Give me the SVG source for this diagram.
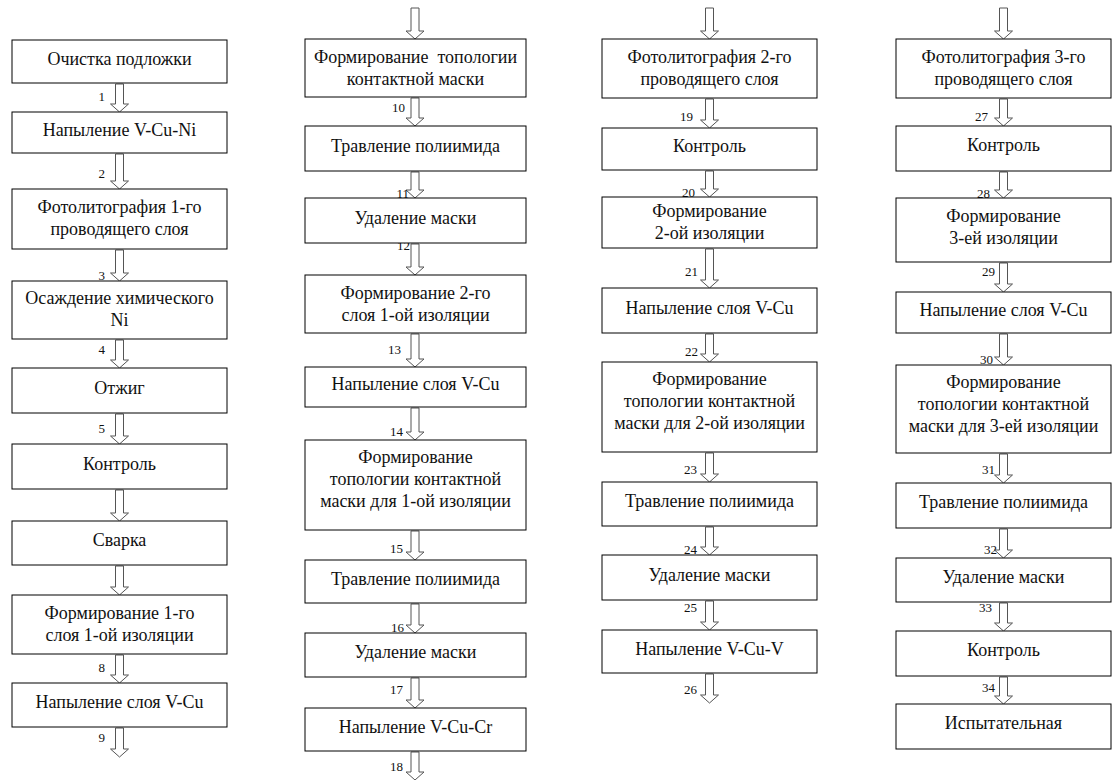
<svg xmlns="http://www.w3.org/2000/svg" width="1112" height="780" viewBox="0 0 1112 780">
<style>
.b rect{fill:#fff;stroke:#000;stroke-width:1}
.b text{font-family:"Liberation Serif","Times New Roman",serif;font-size:18px;fill:#111;text-anchor:middle}
.a polygon{fill:#fff;stroke:#555;stroke-width:1}
.l{font-family:"Liberation Serif","Times New Roman",serif;font-size:13px;fill:#111;text-anchor:end}
</style>
<rect width="1112" height="780" fill="#fff"/>
<g id="connectors" class="a">
<polygon points="115.5,84 123.5,84 123.5,104 128.5,104 119.5,112 110.5,104 115.5,104"/>
<polygon points="115.5,154 123.5,154 123.5,181 128.5,181 119.5,189 110.5,181 115.5,181"/>
<polygon points="115.5,250 123.5,250 123.5,273 128.5,273 119.5,281 110.5,273 115.5,273"/>
<polygon points="115.5,340 123.5,340 123.5,360 128.5,360 119.5,368 110.5,360 115.5,360"/>
<polygon points="115.5,414 123.5,414 123.5,436 128.5,436 119.5,444 110.5,436 115.5,436"/>
<polygon points="115.5,490 123.5,490 123.5,513 128.5,513 119.5,521 110.5,513 115.5,513"/>
<polygon points="115.5,566 123.5,566 123.5,587 128.5,587 119.5,595 110.5,587 115.5,587"/>
<polygon points="115.5,655 123.5,655 123.5,675 128.5,675 119.5,683 110.5,675 115.5,675"/>
<polygon points="115.5,728 123.5,728 123.5,749 128.5,749 119.5,757 110.5,749 115.5,749"/>
<polygon points="411,8 419,8 419,31 424,31 415,39 406,31 411,31"/>
<polygon points="411,98 419,98 419,118 424,118 415,126 406,118 411,118"/>
<polygon points="411,172 419,172 419,190 424,190 415,198 406,190 411,190"/>
<polygon points="411,244 419,244 419,267 424,267 415,275 406,267 411,267"/>
<polygon points="411,334 419,334 419,359 424,359 415,367 406,359 411,359"/>
<polygon points="411,408 419,408 419,432 424,432 415,440 406,432 411,432"/>
<polygon points="411,531 419,531 419,552 424,552 415,560 406,552 411,552"/>
<polygon points="411,604 419,604 419,625 424,625 415,633 406,625 411,625"/>
<polygon points="411,678 419,678 419,700 424,700 415,708 406,700 411,700"/>
<polygon points="411,752 419,752 419,772 424,772 415,780 406,772 411,772"/>
<polygon points="705.5,8 713.5,8 713.5,31 718.5,31 709.5,39 700.5,31 705.5,31"/>
<polygon points="705.5,99 713.5,99 713.5,120 718.5,120 709.5,128 700.5,120 705.5,120"/>
<polygon points="705.5,171 713.5,171 713.5,189 718.5,189 709.5,197 700.5,189 705.5,189"/>
<polygon points="705.5,249 713.5,249 713.5,280 718.5,280 709.5,288 700.5,280 705.5,280"/>
<polygon points="705.5,334 713.5,334 713.5,354 718.5,354 709.5,362 700.5,354 705.5,354"/>
<polygon points="705.5,453 713.5,453 713.5,474 718.5,474 709.5,482 700.5,474 705.5,474"/>
<polygon points="705.5,527 713.5,527 713.5,547 718.5,547 709.5,555 700.5,547 705.5,547"/>
<polygon points="705.5,601 713.5,601 713.5,622 718.5,622 709.5,630 700.5,622 705.5,622"/>
<polygon points="705.5,674 713.5,674 713.5,695 718.5,695 709.5,703 700.5,695 705.5,695"/>
<polygon points="999.5,8 1007.5,8 1007.5,31 1012.5,31 1003.5,39 994.5,31 999.5,31"/>
<polygon points="999.5,99 1007.5,99 1007.5,118 1012.5,118 1003.5,126 994.5,118 999.5,118"/>
<polygon points="999.5,172 1007.5,172 1007.5,190 1012.5,190 1003.5,198 994.5,190 999.5,190"/>
<polygon points="999.5,263 1007.5,263 1007.5,284 1012.5,284 1003.5,292 994.5,284 999.5,284"/>
<polygon points="999.5,334 1007.5,334 1007.5,357 1012.5,357 1003.5,365 994.5,357 999.5,357"/>
<polygon points="999.5,454 1007.5,454 1007.5,475 1012.5,475 1003.5,483 994.5,475 999.5,475"/>
<polygon points="999.5,529 1007.5,529 1007.5,550 1012.5,550 1003.5,558 994.5,550 999.5,550"/>
<polygon points="999.5,603 1007.5,603 1007.5,623 1012.5,623 1003.5,631 994.5,623 999.5,623"/>
<polygon points="999.5,677 1007.5,677 1007.5,696 1012.5,696 1003.5,704 994.5,696 999.5,696"/>
</g>
<g id="labels">
<text class="l" x="105" y="101">1</text>
<text class="l" x="105" y="178">2</text>
<text class="l" x="105" y="280">3</text>
<text class="l" x="105" y="354">4</text>
<text class="l" x="105" y="433">5</text>
<text class="l" x="105" y="672">8</text>
<text class="l" x="105" y="742">9</text>
<text class="l" x="405" y="112">10</text>
<text class="l" x="409" y="198">11</text>
<text class="l" x="410" y="250">12</text>
<text class="l" x="401" y="354">13</text>
<text class="l" x="403" y="436">14</text>
<text class="l" x="403" y="553">15</text>
<text class="l" x="404" y="632">16</text>
<text class="l" x="403" y="694">17</text>
<text class="l" x="403" y="771">18</text>
<text class="l" x="693" y="121">19</text>
<text class="l" x="695" y="197">20</text>
<text class="l" x="698" y="276">21</text>
<text class="l" x="698" y="356">22</text>
<text class="l" x="697" y="474">23</text>
<text class="l" x="697" y="554">24</text>
<text class="l" x="697" y="612">25</text>
<text class="l" x="697" y="694">26</text>
<text class="l" x="988" y="121">27</text>
<text class="l" x="990" y="198">28</text>
<text class="l" x="995" y="276">29</text>
<text class="l" x="993" y="364">30</text>
<text class="l" x="995" y="474">31</text>
<text class="l" x="997" y="554">32</text>
<text class="l" x="992" y="612">33</text>
<text class="l" x="995" y="692">34</text>
</g>
<g id="n1" class="b"><rect x="12" y="40" width="215" height="43"/><text x="119.5" y="65">Очистка подложки</text></g>
<g id="n2" class="b"><rect x="12" y="112" width="215" height="41"/><text x="119.5" y="136">Напыление V-Cu-Ni</text></g>
<g id="n3" class="b"><rect x="12" y="189" width="215" height="60"/><text x="119.5" y="213">Фотолитография 1-го</text><text x="119.5" y="235">проводящего слоя</text></g>
<g id="n4" class="b"><rect x="12" y="281" width="215" height="58"/><text x="119.5" y="304">Осаждение химического</text><text x="119.5" y="326">Ni</text></g>
<g id="n5" class="b"><rect x="12" y="368" width="215" height="45"/><text x="119.5" y="394">Отжиг</text></g>
<g id="n6" class="b"><rect x="12" y="444" width="215" height="45"/><text x="119.5" y="470">Контроль</text></g>
<g id="n7" class="b"><rect x="12" y="521" width="215" height="44"/><text x="119.5" y="546">Сварка</text></g>
<g id="n8" class="b"><rect x="12" y="595" width="215" height="59"/><text x="119.5" y="619">Формирование 1-го</text><text x="119.5" y="641">слоя 1-ой изоляции</text></g>
<g id="n9" class="b"><rect x="12" y="683" width="215" height="44"/><text x="119.5" y="708">Напыление слоя V-Cu</text></g>
<g id="n10" class="b"><rect x="305" y="39" width="221" height="58"/><text x="415.5" y="63" xml:space="preserve">Формирование  топологии</text><text x="415.5" y="85">контактной маски</text></g>
<g id="n11" class="b"><rect x="305" y="126" width="221" height="45"/><text x="415.5" y="152">Травление полиимида</text></g>
<g id="n12" class="b"><rect x="305" y="198" width="221" height="45"/><text x="415.5" y="224">Удаление маски</text></g>
<g id="n13" class="b"><rect x="305" y="275" width="221" height="58"/><text x="415.5" y="299">Формирование 2-го</text><text x="415.5" y="321">слоя 1-ой изоляции</text></g>
<g id="n14" class="b"><rect x="305" y="367" width="221" height="40"/><text x="415.5" y="390">Напыление слоя V-Cu</text></g>
<g id="n15" class="b"><rect x="305" y="440" width="221" height="90"/><text x="415.5" y="463">Формирование</text><text x="415.5" y="485">топологии контактной</text><text x="415.5" y="507">маски для 1-ой изоляции</text></g>
<g id="n16" class="b"><rect x="305" y="560" width="221" height="43"/><text x="415.5" y="585">Травление полиимида</text></g>
<g id="n17" class="b"><rect x="305" y="633" width="221" height="44"/><text x="415.5" y="658">Удаление маски</text></g>
<g id="n18" class="b"><rect x="305" y="708" width="221" height="43"/><text x="415.5" y="733">Напыление V-Cu-Cr</text></g>
<g id="n19" class="b"><rect x="602" y="39" width="215" height="59"/><text x="709.5" y="63">Фотолитография 2-го</text><text x="709.5" y="85">проводящего слоя</text></g>
<g id="n20" class="b"><rect x="602" y="128" width="215" height="42"/><text x="709.5" y="152">Контроль</text></g>
<g id="n21" class="b"><rect x="602" y="197" width="215" height="51"/><text x="709.5" y="217">Формирование</text><text x="709.5" y="239">2-ой изоляции</text></g>
<g id="n22" class="b"><rect x="602" y="288" width="215" height="45"/><text x="709.5" y="314">Напыление слоя V-Cu</text></g>
<g id="n23" class="b"><rect x="602" y="362" width="215" height="90"/><text x="709.5" y="385">Формирование</text><text x="709.5" y="407">топологии контактной</text><text x="709.5" y="429">маски для 2-ой изоляции</text></g>
<g id="n24" class="b"><rect x="602" y="482" width="215" height="44"/><text x="709.5" y="507">Травление полиимида</text></g>
<g id="n25" class="b"><rect x="602" y="555" width="215" height="45"/><text x="709.5" y="581">Удаление маски</text></g>
<g id="n26" class="b"><rect x="602" y="630" width="215" height="43"/><text x="709.5" y="655">Напыление V-Cu-V</text></g>
<g id="n27" class="b"><rect x="896" y="39" width="215" height="59"/><text x="1003.5" y="63">Фотолитография 3-го</text><text x="1003.5" y="85">проводящего слоя</text></g>
<g id="n28" class="b"><rect x="896" y="126" width="215" height="45"/><text x="1003.5" y="151">Контроль</text></g>
<g id="n29" class="b"><rect x="896" y="198" width="215" height="64"/><text x="1003.5" y="222">Формирование</text><text x="1003.5" y="244">3-ей изоляции</text></g>
<g id="n30" class="b"><rect x="896" y="292" width="215" height="41"/><text x="1003.5" y="316">Напыление слоя V-Cu</text></g>
<g id="n31" class="b"><rect x="896" y="365" width="215" height="88"/><text x="1003.5" y="388">Формирование</text><text x="1003.5" y="410">топологии контактной</text><text x="1003.5" y="432">маски для 3-ей изоляции</text></g>
<g id="n32" class="b"><rect x="896" y="483" width="215" height="45"/><text x="1003.5" y="508">Травление полиимида</text></g>
<g id="n33" class="b"><rect x="896" y="558" width="215" height="44"/><text x="1003.5" y="583">Удаление маски</text></g>
<g id="n34" class="b"><rect x="896" y="631" width="215" height="45"/><text x="1003.5" y="656">Контроль</text></g>
<g id="n35" class="b"><rect x="896" y="704" width="215" height="45"/><text x="1003.5" y="729">Испытательная</text></g>
</svg>
